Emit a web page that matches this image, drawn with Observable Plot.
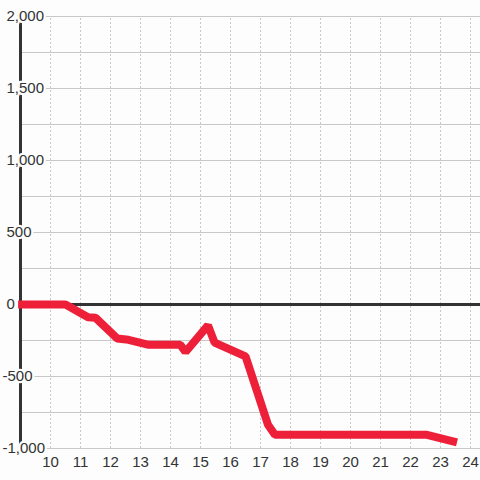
<!DOCTYPE html>
<html>
<head>
<meta charset="utf-8">
<script src="https://cdn.jsdelivr.net/npm/d3@7"></script>
<script src="https://cdn.jsdelivr.net/npm/@observablehq/plot@0.6"></script>
<style>
  html, body { margin: 0; padding: 0; background: #fcfdfc; }
  #chart svg { display: block; }
</style>
</head>
<body>
<div id="chart"></div>
<script>
// Series values (x = hour, y = value)
const hours  = [8.92, 10.5, 11.25, 11.5, 12.22, 12.6, 13.28, 14.33, 14.5, 15.25, 15.47, 16.5, 17.25, 17.48, 22.55, 23.55];
const values = [0, 0, -88, -92, -236, -245, -280, -280, -330, -145, -265, -360, -835, -905, -905, -958];

// Tick labels
const xTicks = [10, 11, 12, 13, 14, 15, 16, 17, 18, 19, 20, 21, 22, 23, 24];
const yGrid = [-1000, -750, -500, -250, 250, 500, 750, 1000, 1250, 1500, 1750, 2000];
const yLabels = [-1000, -500, 0, 500, 1000, 1500, 2000];

const data = hours.map((h, i) => ({ h, v: values[i] }));
const bg = "#fcfdfc";
const fmt = d => d3.format(",")(d).replace("−", "-");
const labelStyle = { x: 9, y: d => d, text: fmt, textAnchor: "start", fontSize: 15, fill: "#333",
                     stroke: bg, strokeWidth: 4.5, strokeLinejoin: "round" };

const chart = Plot.plot({
  width: 480,
  height: 480,
  marginLeft: 20,
  marginRight: 0,
  marginTop: 16,
  marginBottom: 32,
  style: { background: bg, fontFamily: "'Liberation Sans', Arial, sans-serif" },
  x: { domain: [9, 24.3333], axis: null },
  y: { domain: [-1000, 2000], axis: null },
  marks: [
    Plot.ruleY(yGrid, { stroke: "#c8c8c8", strokeWidth: 1 }),
    Plot.ruleX(xTicks, { y1: -1000, y2: 2000, stroke: "#c8c8c8", strokeWidth: 1, strokeDasharray: "2,2" }),
    Plot.ruleY([0], { stroke: "#333", strokeWidth: 3 }),
    Plot.ruleX([9], { y1: -1000, y2: 2000, stroke: "#333", strokeWidth: 3 }),
    Plot.line(data, { x: "h", y: "v", stroke: "#ee1f38", strokeWidth: 8, strokeLinejoin: "miter", strokeLinecap: "butt", clip: false }),
    Plot.text(yLabels.filter(d => d >= 0), { ...labelStyle, dx: -14 }),
    Plot.text(yLabels.filter(d => d < 0), { ...labelStyle, dx: -18 }),
    Plot.text(xTicks, { x: d => d, y: -1000, text: d => String(d), dy: 13.5, fontSize: 15, fill: "#333" })
  ]
});
document.getElementById("chart").appendChild(chart);
</script>
</body>
</html>
